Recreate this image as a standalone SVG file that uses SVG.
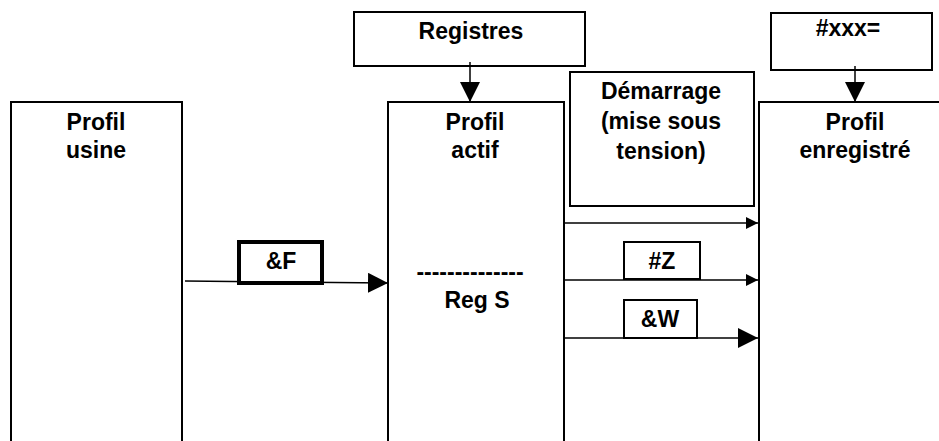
<svg xmlns="http://www.w3.org/2000/svg" width="939" height="441" viewBox="0 0 939 441">
  <style>
    .box { fill: #ffffff; stroke: #000000; stroke-width: 2; }
    .thick { fill: #ffffff; stroke: #000000; stroke-width: 4; }
    .lbl { font-family: "Liberation Sans", Arial, sans-serif; font-weight: bold; font-size: 23px; fill: #000000; text-anchor: middle; }
    .wire { stroke: #000000; stroke-width: 1.5; fill: none; }
  </style>
  <defs>
    <marker id="tipS" markerUnits="userSpaceOnUse" markerWidth="13" markerHeight="13" refX="12" refY="6" orient="auto">
      <path d="M0,0 L12,6 L0,12 Z" fill="#000000"/>
    </marker>
    <marker id="tipL" markerUnits="userSpaceOnUse" markerWidth="21" markerHeight="21" refX="20" refY="10" orient="auto">
      <path d="M0,0 L20,10 L0,20 Z" fill="#000000"/>
    </marker>
  </defs>
  <rect width="939" height="441" fill="#ffffff"/>

  <!-- profile columns (open at the bottom) -->
  <g id="profil-usine">
    <path class="box" d="M11,445 V102 H182 V445"/>
    <text class="lbl" x="96" y="130">Profil</text>
    <text class="lbl" x="96" y="158">usine</text>
  </g>
  <g id="profil-actif">
    <path class="box" d="M388,445 V102 H564 V445"/>
    <text class="lbl" x="475" y="130">Profil</text>
    <text class="lbl" x="475" y="158">actif</text>
    <text class="lbl" x="470" y="280">--------------</text>
    <text class="lbl" x="477" y="308">Reg S</text>
  </g>
  <g id="profil-enregistre">
    <path class="box" d="M759,445 V102 H945"/>
    <text class="lbl" x="855" y="130">Profil</text>
    <text class="lbl" x="855" y="158">enregistré</text>
  </g>

  <!-- command boxes -->
  <g id="registres">
    <rect class="box" x="354" y="12" width="231" height="54"/>
    <text class="lbl" x="471" y="39">Registres</text>
  </g>
  <g id="xxx">
    <rect class="box" x="771" y="13" width="161" height="57"/>
    <text class="lbl" x="848" y="36">#xxx=</text>
  </g>
  <g id="demarrage">
    <rect class="box" x="570" y="72" width="184" height="134"/>
    <text class="lbl" x="661" y="99">Démarrage</text>
    <text class="lbl" x="661" y="129">(mise sous</text>
    <text class="lbl" x="661" y="159">tension)</text>
  </g>

  <!-- connectors -->
  <g id="connectors">
    <line class="wire" x1="470" y1="62" x2="470" y2="102" marker-end="url(#tipL)"/>
    <line class="wire" x1="855" y1="66" x2="855" y2="102" marker-end="url(#tipL)"/>
    <line class="wire" x1="185" y1="281" x2="388" y2="283" marker-end="url(#tipL)"/>
    <line class="wire" x1="565" y1="223" x2="758" y2="223" marker-end="url(#tipS)"/>
    <line class="wire" x1="565" y1="280" x2="758" y2="280" marker-end="url(#tipS)"/>
    <line class="wire" x1="565" y1="338" x2="758" y2="338" marker-end="url(#tipL)"/>
  </g>

  <!-- arrow labels -->
  <g id="cmd-f">
    <rect class="thick" x="239" y="242" width="83" height="41"/>
    <text class="lbl" x="281" y="269">&amp;F</text>
  </g>
  <g id="cmd-z">
    <rect class="box" x="624" y="242" width="76" height="37"/>
    <text class="lbl" x="662" y="269">#Z</text>
  </g>
  <g id="cmd-w">
    <rect class="box" x="624" y="300" width="73" height="38"/>
    <text class="lbl" x="660" y="327">&amp;W</text>
  </g>
</svg>
